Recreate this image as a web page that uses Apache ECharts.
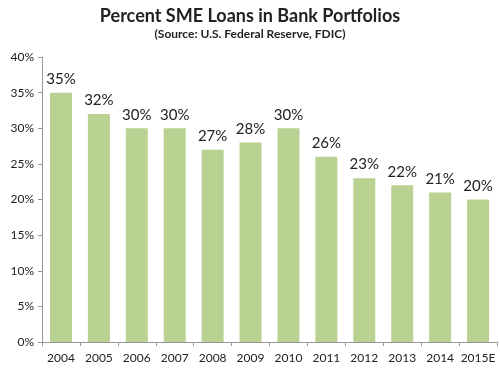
<!DOCTYPE html>
<html><head><meta charset="utf-8">
<script src="https://cdn.jsdelivr.net/npm/echarts@6/dist/echarts.min.js"></script>
<style>html,body{margin:0;padding:0;background:#fff}#c{width:500px;height:370px}</style>
</head><body><div id="c"></div>
<script>
const categories = ['2004','2005','2006','2007','2008','2009','2010','2011','2012','2013','2014','2015E'];
const values = [35,32,30,30,27,28,30,26,23,22,21,20];
const titleText = 'Percent SME Loans in Bank Portfolios';
const subtitleText = '(Source: U.S. Federal Reserve, FDIC)';

const chart = echarts.init(document.getElementById('c'), null, {renderer:'canvas'});
chart.setOption({
  animation:false,
  title:{
    text:titleText, subtext:subtitleText, left:'center', top:2, itemGap:3,
    textStyle:{fontFamily:'Lato', fontWeight:'bold', fontSize:18, color:'#222'},
    subtextStyle:{fontFamily:'Lato', fontWeight:'bold', fontSize:12, color:'#222'}
  },
  grid:{left:42, right:3, top:57, bottom:28},
  xAxis:{
    type:'category', data:categories,
    axisLine:{lineStyle:{color:'#999'}},
    axisTick:{show:true, interval:0, alignWithLabel:false, length:4, lineStyle:{color:'#999'}},
    axisLabel:{interval:0, fontFamily:'Lato', fontSize:12, color:'#222', margin:10}
  },
  yAxis:{
    type:'value', min:0, max:40, interval:5,
    axisLine:{show:true, lineStyle:{color:'#999'}},
    axisTick:{show:true, length:4, lineStyle:{color:'#999'}},
    splitLine:{show:false},
    axisLabel:{fontFamily:'Lato', fontSize:12, color:'#222', formatter:'{value}%', margin:8}
  },
  series:[{
    type:'bar', data:values, barWidth:'58%',
    itemStyle:{color:'#bad291'},
    label:{show:true, position:'top', distance:6, formatter:'{c}%', fontFamily:'Lato', fontSize:15, color:'#222'}
  }]
});
</script></body></html>
